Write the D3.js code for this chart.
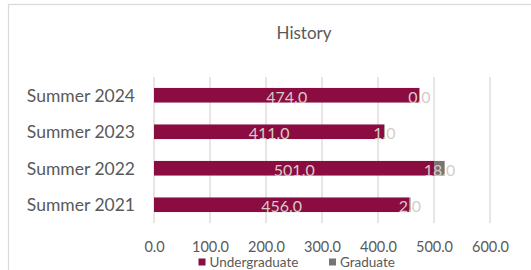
<!DOCTYPE html>
<html><head><meta charset="utf-8">
<script src="https://cdn.jsdelivr.net/npm/d3@7"></script>
<style>html,body{margin:0;padding:0;background:#fff;overflow:hidden}</style>
</head><body>
<svg id="c" width="531" height="270"></svg>
<script>
const title = "History";
const categories = ["Summer 2024", "Summer 2023", "Summer 2022", "Summer 2021"];
const undergraduate = [474, 411, 501, 456];
const graduate = [0, 1, 18, 2];
const seriesNames = ["Undergraduate", "Graduate"];
const xTicks = [0, 100, 200, 300, 400, 500, 600];

const FONT = "Lato, 'Open Sans', sans-serif";
const colors = {Undergraduate: "#8a0c40", Graduate: "#787474"};
const svg = d3.select("#c");

svg.append("rect").attr("x", 8.5).attr("y", 4.5).attr("width", 600).attr("height", 400)
  .attr("fill", "#fff").attr("stroke", "#d9d9d9").attr("stroke-width", 1.2);

const x = d3.scaleLinear().domain([0, 600]).range([154, 490]);
const y = d3.scaleBand().domain(categories).range([77, 223]).paddingInner(0.6).paddingOuter(0.3);

svg.append("text").attr("x", 304).attr("y", 38.5).attr("text-anchor", "middle")
  .attr("font-family", FONT).attr("font-size", 17).attr("fill", "#595959").text(title);

// gridlines
svg.append("g").selectAll("line").data(xTicks).join("line")
  .attr("x1", d => x(d)).attr("x2", d => x(d)).attr("y1", 77).attr("y2", 223)
  .attr("stroke", "#d9d9d9").attr("stroke-width", 1.3);

// x axis labels
const xAxis = d3.axisBottom(x).tickValues(xTicks).tickFormat(d3.format(".1f")).tickSize(0).tickPadding(0);
const gx = svg.append("g").attr("transform", "translate(0,240)").call(xAxis);
gx.select(".domain").remove();
gx.selectAll("text").attr("font-family", FONT).attr("font-size", 14.5).attr("fill", "#595959").attr("dy", "0.8em");

// y axis labels
const yAxis = d3.axisLeft(y).tickSize(0).tickPadding(0);
const gy = svg.append("g").attr("transform", "translate(135,0)").call(yAxis);
gy.select(".domain").remove();
gy.selectAll("text").attr("font-family", FONT).attr("font-size", 17.5).attr("fill", "#595959").attr("dy", "0.36em");

const rows = categories.map((c, i) => ({c, u: undergraduate[i], g: graduate[i]}));

svg.append("g").selectAll("rect").data(rows).join("rect")
  .attr("x", x(0)).attr("y", d => y(d.c)).attr("width", d => x(d.u) - x(0)).attr("height", y.bandwidth())
  .attr("fill", colors.Undergraduate);
svg.append("g").selectAll("rect").data(rows).join("rect")
  .attr("x", d => x(d.u)).attr("y", d => y(d.c)).attr("width", d => x(d.u + d.g) - x(d.u)).attr("height", y.bandwidth())
  .attr("fill", colors.Graduate);

const fmt = d3.format(".1f");
const lab = svg.append("g").attr("font-family", FONT).attr("font-size", 16).attr("fill", "#d6ccc4").attr("text-anchor", "middle");
lab.selectAll("text.u").data(rows).join("text").attr("class", "u")
  .attr("x", d => x(d.u / 2)).attr("y", d => y(d.c) + y.bandwidth() / 2 + 1.5).attr("dy", "0.36em").text(d => fmt(d.u));
lab.selectAll("text.g").data(rows).join("text").attr("class", "g")
  .attr("x", d => x(d.u + d.g / 2)).attr("y", d => y(d.c) + y.bandwidth() / 2 + 1.5).attr("dy", "0.36em").text(d => fmt(d.g));

// legend
const legX = [198.5, 329];
const leg = svg.append("g").selectAll("g").data(seriesNames).join("g")
  .attr("transform", (d, i) => `translate(${legX[i]},0)`);
leg.append("rect").attr("x", 0).attr("y", 258.5).attr("width", 7).attr("height", 7).attr("fill", d => colors[d]);
leg.append("text").attr("x", 11).attr("y", 267).attr("font-family", FONT).attr("font-size", 13.5)
  .attr("fill", "#595959").text(d => d);
</script>
</body></html>
